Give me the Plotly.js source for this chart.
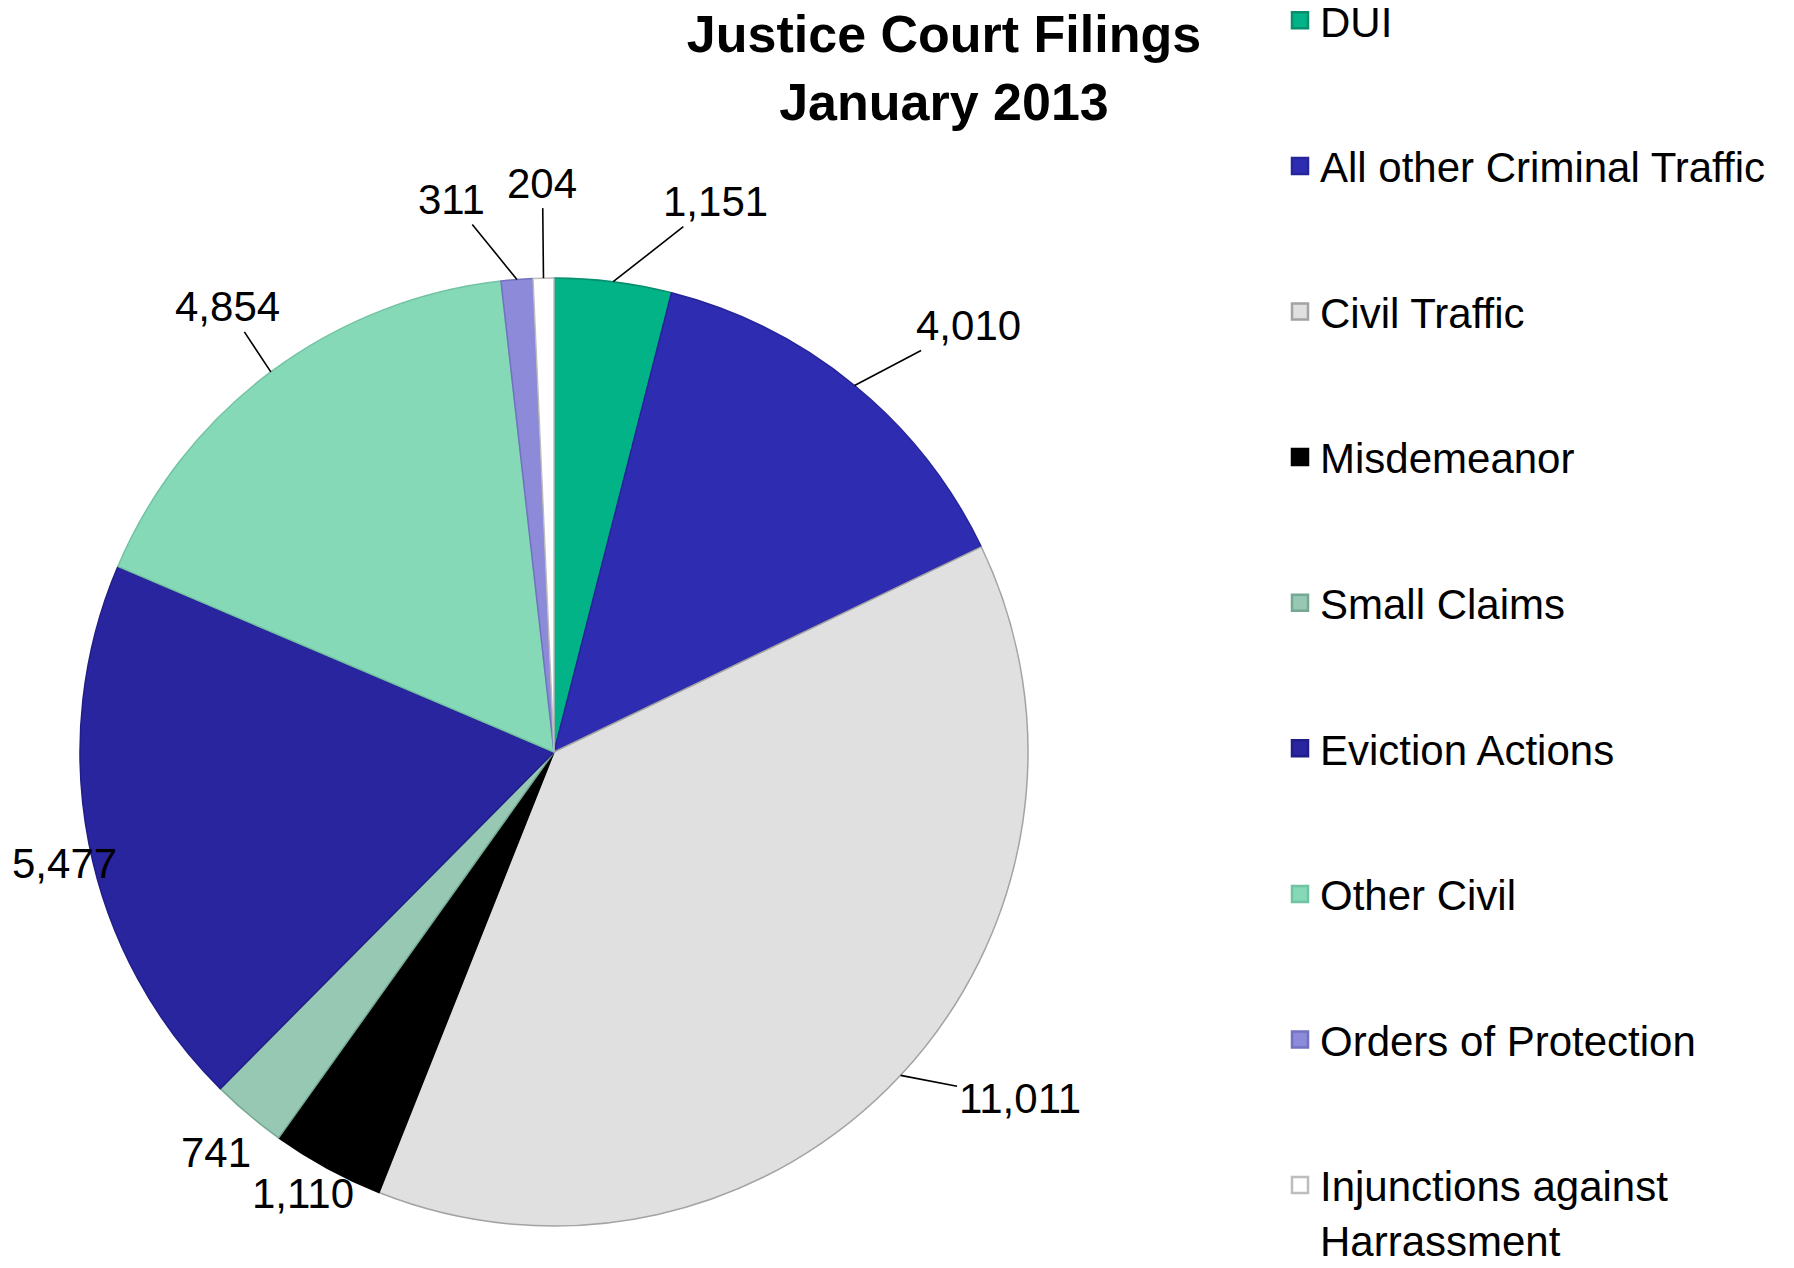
<!DOCTYPE html>
<html>
<head>
<meta charset="utf-8">
<script src="https://cdn.plot.ly/plotly-3.0.1.min.js"></script>
<style>
html,body{margin:0;padding:0;background:#ffffff;}
#chart{width:1794px;height:1268px;}
</style>
</head>
<body>
<div id="chart"></div>
<script>
// ---- data ----
const categories = ["DUI", "All other Criminal Traffic", "Civil Traffic", "Misdemeanor", "Small Claims",
  "Eviction Actions", "Other Civil", "Orders of Protection", "Injunctions against Harrassment"];
const legendLabels = ["DUI", "All other Criminal Traffic", "Civil Traffic", "Misdemeanor", "Small Claims",
  "Eviction Actions", "Other Civil", "Orders of Protection", "Injunctions against<br>Harrassment"];
const values = [1151, 4010, 11011, 1110, 741, 5477, 4854, 311, 204];
const fillColors = ["#02B388", "#2E2DB1", "#E0E0E0", "#000000", "#97C8B4", "#29259F", "#86D9B7", "#8C8AD9", "#FFFFFF"];
const lineColors = ["#078F6E", "#25249A", "#A3A3A3", "#000000", "#74A893", "#201E88", "#72C3A3", "#7272C2", "#BDBDBD"];
const titleText = "Justice Court Filings<br>January 2013";

// ---- styling / layout ----
const W = 1794, H = 1268;
const FONT = "Liberation Sans, Arial, sans-serif";
const domX = [80 / W, 1028 / W];
const domY = [1 - 1226 / H, 1 - 278 / H];
// label offsets (pixels) from slice mid-arc point; leader shown or not
const labelOffsets = [[102, -80], [114, -60], [119, 23], [-24, 25], [-33, 38], [-24, 20], [-43, -65], [-65, -80], [-1, -95]];
const showLeader = [true, true, true, false, false, false, true, true, true];

const fmt = v => v.toLocaleString("en-US");

const pie = {
  type: "pie",
  labels: categories,
  values: values,
  sort: false,
  direction: "clockwise",
  rotation: 0,
  textinfo: "none",
  hoverinfo: "label+value",
  showlegend: false,
  domain: {x: domX, y: domY},
  marker: {colors: fillColors, line: {color: lineColors, width: 1.5}}
};

const legendTraces = legendLabels.map((name, i) => ({
  type: "scatter",
  mode: "markers",
  x: [null], y: [null],
  name: name,
  legendgroup: "g" + i,
  showlegend: true,
  hoverinfo: "skip",
  marker: {symbol: "square", size: 16, color: fillColors[i], line: {color: lineColors[i], width: 2.5}}
}));

// label annotations computed from data via pie geometry
const total = values.reduce((a, b) => a + b, 0);
const cx = W * (domX[0] + domX[1]) / 2;
const cy = H * (1 - (domY[0] + domY[1]) / 2);
const R = Math.min(W * (domX[1] - domX[0]), H * (domY[1] - domY[0])) / 2;
let cum = 0;
const annotations = values.map((v, i) => {
  const mid = (cum + v / 2) / total * 2 * Math.PI;
  cum += v;
  const px = cx + R * Math.sin(mid);
  const py = cy - R * Math.cos(mid);
  return {
    xref: "paper", yref: "paper",
    x: px / W, y: 1 - py / H,
    ax: labelOffsets[i][0], ay: labelOffsets[i][1],
    axref: "pixel", ayref: "pixel",
    text: fmt(v),
    showarrow: true,
    arrowhead: 0,
    arrowwidth: 1.6,
    standoff: 0,
    startstandoff: 0,
    arrowcolor: showLeader[i] ? "#000000" : "rgba(0,0,0,0)",
    font: {family: FONT, size: 42, color: "#000000"}
  };
});

const layout = {
  width: W, height: H,
  margin: {l: 0, r: 0, t: 0, b: 0, autoexpand: false},
  paper_bgcolor: "#ffffff",
  plot_bgcolor: "#ffffff",
  font: {family: FONT, color: "#000000"},
  title: {
    text: titleText,
    font: {family: FONT, size: 52, color: "#000000", weight: "bold"},
    x: 944 / W, xref: "container", xanchor: "center",
    y: 1 - 52 / H, yref: "container", yanchor: "top",
    pad: {t: 0, b: 0, l: 0, r: 0}
  },
  xaxis: {visible: false},
  yaxis: {visible: false},
  showlegend: true,
  legend: {
    x: 1280 / W, xanchor: "left",
    y: 1 + 13.5 / H, yanchor: "top",
    traceorder: "grouped",
    tracegroupgap: 88,
    valign: "top",
    maxheight: 2000,
    bgcolor: "rgba(0,0,0,0)",
    borderwidth: 0,
    font: {family: FONT, size: 42, color: "#000000"}
  },
  annotations: annotations
};

Plotly.newPlot("chart", [pie].concat(legendTraces), layout, {displayModeBar: false, staticPlot: true});
</script>
</body>
</html>
